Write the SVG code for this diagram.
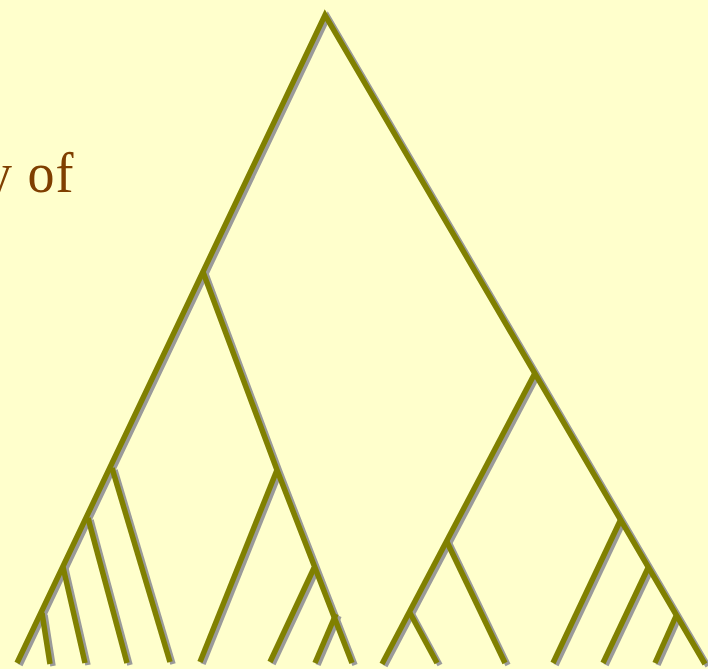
<svg xmlns="http://www.w3.org/2000/svg" width="708" height="669" viewBox="0 0 708 669">
<defs>
<style>
.t{fill:none;stroke-width:5.5;stroke-linecap:butt;stroke-linejoin:miter;stroke-miterlimit:10}
.sh{stroke:#9a9a9a}
.ln{stroke:#808000}
.lbl{font-family:"Palatino Linotype","Book Antiqua","Liberation Serif",serif;font-size:54px;letter-spacing:1px;fill:#7f3f00}
</style>
<g id="tree">
<polyline points="17,663 325,15 705,664"/>
<polyline points="203,272 277,470 352,663"/>
<polyline points="535,373 382,664"/>
<line x1="112" y1="468" x2="170" y2="662"/>
<line x1="88" y1="518" x2="127" y2="663"/>
<line x1="63" y1="567" x2="85" y2="663"/>
<line x1="42" y1="613" x2="50" y2="664"/>
<line x1="277" y1="470" x2="200" y2="662"/>
<line x1="314" y1="568" x2="270" y2="662"/>
<line x1="336" y1="614" x2="315" y2="663"/>
<line x1="447" y1="542" x2="505" y2="663"/>
<line x1="410" y1="613" x2="437" y2="663"/>
<line x1="621" y1="519" x2="553" y2="663"/>
<line x1="648" y1="568" x2="603" y2="663"/>
<line x1="676" y1="616" x2="655" y2="663"/>
</g>
</defs>
<rect width="708" height="669" fill="#ffffcc"/>
<g id="label">
<text class="lbl" transform="translate(-15,192) scale(1,1.05)">y of</text>
</g>
<g id="connectors">
<use href="#tree" class="t sh" transform="translate(3,2)"/>
<use href="#tree" class="t ln"/>
</g>
</svg>
